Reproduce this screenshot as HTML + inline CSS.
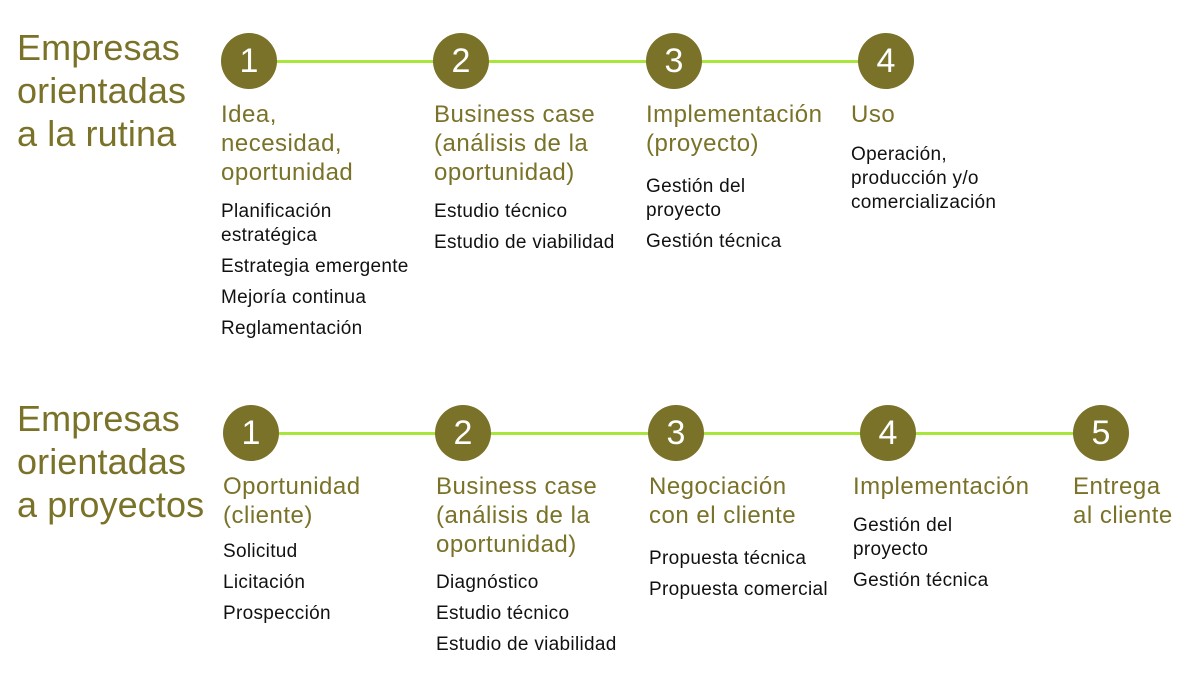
<!DOCTYPE html>
<html><head><meta charset="utf-8"><style>
body{margin:0;width:1201px;height:675px;background:#fff;position:relative;overflow:hidden;font-family:"Liberation Sans",sans-serif}
.t{position:absolute;color:#7a7228;font-size:36px;line-height:43px;letter-spacing:0.1px}
.c{position:absolute;width:56px;height:56px;border-radius:50%;background:#7a7228;color:#fff;font-size:34px;line-height:56px;text-align:center}
.l{position:absolute;height:3px;background:#a8e63c}
.h{position:absolute;color:#7a7228;font-size:24px;line-height:29px;white-space:nowrap;letter-spacing:0.5px}
.b{position:absolute;color:#111;font-size:19px;line-height:24px;white-space:nowrap;letter-spacing:0.3px}
.b div{margin-bottom:7px}
</style></head><body>
<div class="t" style="left:17px;top:26px">Empresas<br>orientadas<br>a la rutina</div>
<div class="l" style="left:250px;top:60px;width:636px"></div>
<div class="c" style="left:221px;top:33px">1</div>
<div class="c" style="left:433px;top:33px">2</div>
<div class="c" style="left:646px;top:33px">3</div>
<div class="c" style="left:858px;top:33px">4</div>
<div class="h" style="left:221px;top:100px">Idea,<br>necesidad,<br>oportunidad</div>
<div class="b" style="left:221px;top:200px"><div>Planificación<br>estratégica</div><div>Estrategia emergente</div><div>Mejoría continua</div><div>Reglamentación</div></div>
<div class="h" style="left:434px;top:100px">Business case<br>(análisis de la<br>oportunidad)</div>
<div class="b" style="left:434px;top:200px"><div>Estudio técnico</div><div>Estudio de viabilidad</div></div>
<div class="h" style="left:646px;top:100px">Implementación<br>(proyecto)</div>
<div class="b" style="left:646px;top:175px"><div>Gestión del<br>proyecto</div><div>Gestión técnica</div></div>
<div class="h" style="left:851px;top:100px">Uso</div>
<div class="b" style="left:851px;top:143px"><div>Operación,<br>producción y/o<br>comercialización</div></div>

<div class="t" style="left:17px;top:397px">Empresas<br>orientadas<br>a proyectos</div>
<div class="l" style="left:252px;top:432px;width:848px"></div>
<div class="c" style="left:223px;top:405px">1</div>
<div class="c" style="left:435px;top:405px">2</div>
<div class="c" style="left:648px;top:405px">3</div>
<div class="c" style="left:860px;top:405px">4</div>
<div class="c" style="left:1073px;top:405px">5</div>
<div class="h" style="left:223px;top:472px">Oportunidad<br>(cliente)</div>
<div class="b" style="left:223px;top:540px"><div>Solicitud</div><div>Licitación</div><div>Prospección</div></div>
<div class="h" style="left:436px;top:472px">Business case<br>(análisis de la<br>oportunidad)</div>
<div class="b" style="left:436px;top:571px"><div>Diagnóstico</div><div>Estudio técnico</div><div>Estudio de viabilidad</div></div>
<div class="h" style="left:649px;top:472px">Negociación<br>con el cliente</div>
<div class="b" style="left:649px;top:547px"><div>Propuesta técnica</div><div>Propuesta comercial</div></div>
<div class="h" style="left:853px;top:472px">Implementación</div>
<div class="b" style="left:853px;top:514px"><div>Gestión del<br>proyecto</div><div>Gestión técnica</div></div>
<div class="h" style="left:1073px;top:472px">Entrega<br>al cliente</div>
</body></html>
